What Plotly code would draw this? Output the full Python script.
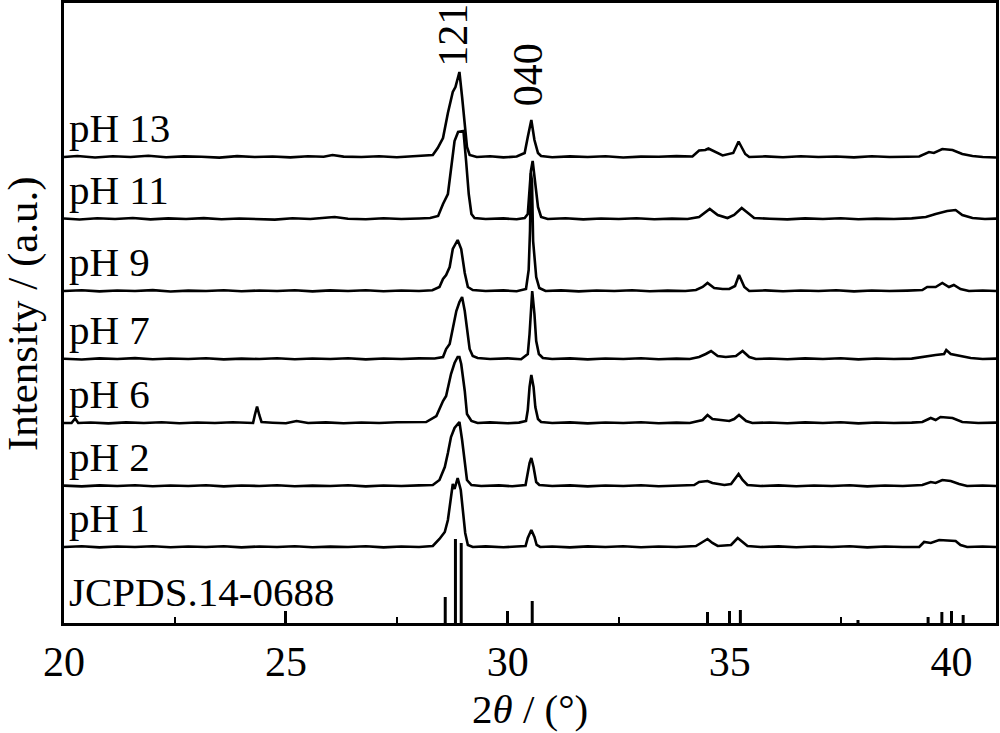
import plotly.graph_objects as go

# ---------------- data (2theta in degrees, intensity in arbitrary units above each pattern's baseline) -------------
sample_labels = ["pH 13", "pH 11", "pH 9", "pH 7", "pH 6", "pH 2", "pH 1"]
sample_offsets = [468, 406, 334, 266, 202, 139, 78]

ph13 = [(20.00,0.0),(20.30,1.0),(20.70,-0.5),(21.10,0.8),(21.50,0.0),(21.90,1.2),(22.30,-0.3),(22.70,0.6),(23.10,0.2),(23.50,-0.6),(23.90,0.9),(24.30,0.0),(24.70,0.5),(25.10,-0.4),(25.50,0.7),(25.85,0.3),(26.05,2.0),(26.30,0.4),(26.70,0.0),(27.10,0.8),(27.50,-0.2),(27.90,0.6),(28.15,1.0),(28.31,2.0),(28.42,9),(28.54,19),(28.65,44),(28.76,65),(28.82,70),(28.91,85),(28.97,60),(29.03,34),(29.08,10),(29.14,2),(29.30,0.0),(29.60,0.7),(29.90,-0.4),(30.20,0.5),(30.38,4),(30.45,20),(30.53,37),(30.60,17),(30.68,4),(30.75,1),(31.00,-0.3),(31.40,0.6),(31.80,0.0),(32.20,0.8),(32.60,-0.5),(33.00,0.4),(33.40,0.2),(33.80,0.9),(34.16,0.5),(34.31,6.5),(34.45,7),(34.52,8.5),(34.69,5),(34.84,1.5),(35.08,4),(35.20,15.5),(35.35,3),(35.44,0.0),(35.80,0.6),(36.20,-0.3),(36.60,0.8),(37.00,0.0),(37.40,0.5),(37.80,-0.4),(38.20,0.7),(38.60,0.0),(39.00,0.3),(39.27,0.5),(39.49,5),(39.60,4),(39.79,8),(40.02,7),(40.24,3),(40.47,1),(40.70,0.0),(41.00,-0.5)]

ph11 = [(20.00,0.5),(20.35,-0.5),(20.75,0.8),(21.15,0.0),(21.55,1.0),(21.95,-0.4),(22.35,0.6),(22.75,0.0),(23.15,0.9),(23.55,-0.3),(23.95,0.5),(24.35,0.2),(24.75,-0.6),(25.15,0.7),(25.55,0.0),(25.95,1.5),(26.10,2.0),(26.40,0.3),(26.80,-0.2),(27.20,0.7),(27.60,0.0),(28.00,0.5),(28.25,1.0),(28.43,3),(28.54,15),(28.65,25),(28.72,48),(28.80,78),(28.88,87),(28.95,88),(29.00,88),(29.06,58),(29.12,25),(29.18,5),(29.25,1),(29.50,0.0),(29.90,0.6),(30.20,-0.3),(30.38,1),(30.45,5),(30.49,25),(30.52,48),(30.56,58),(30.62,35),(30.68,12),(30.75,2),(30.90,0.0),(31.30,0.7),(31.70,-0.4),(32.10,0.5),(32.50,0.0),(32.90,0.8),(33.30,-0.3),(33.70,0.4),(34.05,0.0),(34.31,2),(34.43,6),(34.55,10),(34.73,4),(34.95,1),(35.10,4),(35.27,11),(35.44,5),(35.55,1),(35.90,0.3),(36.30,-0.4),(36.70,0.6),(37.10,0.0),(37.50,0.8),(37.90,-0.3),(38.30,0.4),(38.70,0.0),(39.10,0.6),(39.42,2),(39.64,5),(39.90,8),(40.09,9),(40.24,4),(40.47,1),(40.75,0.0),(41.00,0.4)]

ph9 = [(20.00,0.0),(20.40,0.8),(20.80,-0.4),(21.20,0.5),(21.60,0.0),(22.00,0.9),(22.40,-0.5),(22.80,0.4),(23.20,0.0),(23.60,0.7),(24.00,-0.3),(24.40,0.5),(24.80,0.0),(25.20,0.8),(25.60,-0.4),(26.00,0.6),(26.40,0.0),(26.80,0.7),(27.20,-0.3),(27.60,0.5),(28.00,0.0),(28.30,0.8),(28.46,4),(28.54,12),(28.61,16),(28.69,24),(28.76,42),(28.87,51),(28.95,42),(29.03,18),(29.10,4),(29.21,1),(29.50,0.0),(29.90,0.6),(30.20,-0.2),(30.41,2),(30.47,21),(30.50,60),(30.52,118),(30.545,110),(30.57,50),(30.60,36),(30.64,14),(30.71,3),(30.85,0.0),(31.20,0.6),(31.60,-0.4),(32.00,0.5),(32.40,0.0),(32.80,0.8),(33.20,-0.3),(33.60,0.4),(34.00,0.0),(34.24,1),(34.39,4),(34.50,8),(34.65,3),(34.84,2),(34.99,2),(35.12,5),(35.21,16),(35.33,4),(35.44,0.0),(35.80,0.6),(36.20,-0.3),(36.60,0.5),(37.00,0.0),(37.40,0.7),(37.80,-0.4),(38.20,0.5),(38.60,0.0),(39.00,0.4),(39.34,1),(39.45,4),(39.64,4),(39.79,8),(39.94,4),(40.05,6),(40.20,2),(40.39,0.0),(40.70,0.5),(41.00,0.0)]

ph7 = [(20.00,0.3),(20.40,-0.5),(20.80,0.6),(21.20,0.0),(21.60,0.9),(22.00,-0.3),(22.40,0.5),(22.80,0.0),(23.20,0.8),(23.60,-0.4),(24.00,0.4),(24.40,0.0),(24.80,0.7),(25.20,-0.3),(25.60,0.5),(26.00,0.0),(26.40,0.8),(26.80,-0.4),(27.20,0.5),(27.60,0.0),(28.00,0.6),(28.35,0.5),(28.54,2),(28.61,10),(28.69,15),(28.76,32),(28.84,48),(28.91,57),(28.97,62),(29.03,48),(29.08,28),(29.14,10),(29.21,3),(29.32,1),(29.60,0.0),(30.00,0.6),(30.30,-0.2),(30.45,5),(30.49,25),(30.52,52),(30.55,68),(30.60,45),(30.64,18),(30.70,5),(30.79,1),(31.00,0.0),(31.40,0.6),(31.80,-0.4),(32.20,0.5),(32.60,0.0),(33.00,0.8),(33.40,-0.3),(33.80,0.4),(34.10,0.0),(34.31,2),(34.46,5),(34.58,8),(34.73,3),(34.91,2),(35.14,3),(35.29,8),(35.44,2),(35.59,0.0),(35.90,0.5),(36.30,-0.3),(36.70,0.6),(37.10,0.0),(37.50,0.7),(37.90,-0.4),(38.30,0.5),(38.70,0.0),(39.10,0.4),(39.45,3),(39.64,4),(39.83,5),(39.88,9),(39.98,5),(40.17,3),(40.43,1),(40.70,0.0),(41.00,0.4)]

ph6 = [(20.00,0.0),(20.17,0.0),(20.25,4.5),(20.32,0.0),(20.60,0.5),(21.00,-0.4),(21.40,0.6),(21.80,0.0),(22.20,0.8),(22.60,-0.3),(23.00,0.5),(23.40,0.0),(23.80,0.7),(24.10,0.0),(24.26,0.0),(24.30,8),(24.35,16.5),(24.40,8),(24.45,1),(24.70,0.3),(25.00,-0.3),(25.24,2),(25.50,0.0),(25.90,0.6),(26.30,-0.3),(26.70,0.5),(27.10,0.0),(27.50,0.7),(27.90,0.6),(28.16,1),(28.39,7),(28.54,22),(28.61,27),(28.72,49),(28.80,60),(28.87,66),(28.91,66),(28.95,59),(29.03,32),(29.08,9),(29.18,2),(29.32,0.0),(29.60,0.6),(30.00,-0.3),(30.25,0.4),(30.41,2),(30.45,13),(30.49,36),(30.53,48),(30.58,36),(30.62,16),(30.68,4),(30.75,1),(31.00,0.0),(31.40,0.6),(31.80,-0.4),(32.20,0.5),(32.60,0.0),(33.00,0.8),(33.40,-0.3),(33.80,0.4),(34.10,0.0),(34.39,3),(34.50,8),(34.61,4),(34.84,3),(34.99,2),(35.10,4),(35.21,8),(35.37,2),(35.51,0.0),(35.90,0.5),(36.30,-0.3),(36.70,0.6),(37.10,0.0),(37.50,0.7),(37.90,-0.4),(38.30,0.5),(38.70,0.0),(39.10,0.4),(39.34,1),(39.53,5),(39.64,3),(39.75,6),(40.02,5),(40.24,1),(40.60,0.0),(41.00,0.4)]

ph2 = [(20.00,0.4),(20.40,-0.4),(20.80,0.6),(21.20,0.0),(21.60,0.8),(22.00,-0.3),(22.40,0.5),(22.80,0.0),(23.20,0.7),(23.60,-0.4),(24.00,0.5),(24.40,0.0),(24.80,0.8),(25.20,-0.3),(25.60,0.4),(26.00,0.0),(26.40,0.7),(26.80,-0.4),(27.20,0.5),(27.60,0.0),(28.00,0.6),(28.31,1),(28.46,6),(28.58,19),(28.65,33),(28.72,49),(28.80,58),(28.85,61),(28.91,64),(28.97,46),(29.03,23),(29.08,6),(29.18,1),(29.40,0.0),(29.80,0.6),(30.10,-0.3),(30.40,1),(30.45,13),(30.49,23),(30.53,28),(30.58,19),(30.64,4),(30.71,1),(31.00,0.0),(31.40,0.6),(31.80,-0.4),(32.20,0.5),(32.60,0.0),(33.00,0.8),(33.40,-0.3),(33.80,0.4),(34.20,1),(34.31,4),(34.50,5),(34.61,3),(34.88,1),(35.03,2),(35.10,6),(35.20,12),(35.29,6),(35.40,1),(35.70,0.0),(36.10,0.6),(36.50,-0.3),(36.90,0.5),(37.30,0.0),(37.70,0.7),(38.10,-0.4),(38.50,0.5),(38.90,0.0),(39.34,1),(39.53,4),(39.64,3),(39.79,6),(39.98,5),(40.17,2),(40.35,0.0),(40.70,0.5),(41.00,0.0)]

ph1 = [(20.00,0.0),(20.40,0.7),(20.80,-0.4),(21.20,0.5),(21.60,0.0),(22.00,0.8),(22.40,-0.3),(22.80,0.5),(23.20,0.0),(23.60,0.7),(24.00,-0.4),(24.40,0.5),(24.80,0.0),(25.20,0.8),(25.60,-0.3),(26.00,0.4),(26.40,0.0),(26.80,0.7),(27.20,-0.4),(27.60,0.5),(28.00,0.0),(28.31,1),(28.46,8),(28.58,15),(28.65,27),(28.72,50),(28.76,63),(28.80,58),(28.84,65),(28.87,69),(28.94,57),(28.99,37),(29.04,14),(29.10,2),(29.21,0.0),(29.50,0.6),(29.90,-0.3),(30.20,0.5),(30.40,1),(30.45,9),(30.53,17),(30.60,10),(30.65,2),(30.73,0.0),(31.00,0.5),(31.40,-0.4),(31.80,0.6),(32.20,0.0),(32.60,0.7),(33.00,-0.3),(33.40,0.5),(33.80,0.0),(34.24,1),(34.39,5),(34.50,8),(34.61,4),(34.73,1),(35.03,2),(35.18,9),(35.29,5),(35.40,1),(35.70,0.0),(36.10,0.6),(36.50,-0.3),(36.90,0.5),(37.30,0.0),(37.70,0.7),(38.10,-0.4),(38.50,0.5),(38.90,0.0),(39.27,0.0),(39.38,5),(39.53,4),(39.72,7),(39.94,6),(40.09,6),(40.20,2),(40.35,0.0),(40.70,0.5),(41.00,0.0)]

patterns = [ph13, ph11, ph9, ph7, ph6, ph2, ph1]

# JCPDS 14-0688 reference lines
jcpds_label = "JCPDS.14-0688"
jcpds_theta = [28.59, 28.82, 28.95, 30.55, 34.50, 35.24, 37.89, 39.47, 39.78, 40.26]
jcpds_height = [26, 84, 80, 22, 11, 13, 3, 6, 11, 8]

peak_labels = ["121", "040"]
peak_theta = [28.76, 30.46]
peak_label_y = [590, 550]

x_ticks = [20, 25, 30, 35, 40]

# ---------------- figure ----------------
FONT = "Liberation Serif, Times New Roman, serif"
fig = go.Figure()

for pts, off in zip(patterns, sample_offsets):
    fig.add_trace(go.Scatter(
        x=[p[0] for p in pts], y=[p[1] + off for p in pts],
        mode="lines", line=dict(color="black", width=2.6),
        showlegend=False, hoverinfo="skip"))

sx, sy = [], []
for t, h in zip(jcpds_theta, jcpds_height):
    sx += [t, t, None]
    sy += [0, h + 2, None]
fig.add_trace(go.Scatter(x=sx, y=sy, mode="lines",
                         line=dict(color="black", width=3),
                         showlegend=False, hoverinfo="skip"))

annotations = []
for lab, off in zip(sample_labels, sample_offsets):
    annotations.append(dict(x=20.06, y=off + 29, xref="x", yref="y", text=lab,
                            showarrow=False, xanchor="left", yanchor="middle",
                            font=dict(family=FONT, size=41, color="black")))
annotations.append(dict(x=20.06, y=33, xref="x", yref="y", text=jcpds_label,
                        showarrow=False, xanchor="left", yanchor="middle",
                        font=dict(family=FONT, size=41, color="black")))
for lab, t, yy in zip(peak_labels, peak_theta, peak_label_y):
    annotations.append(dict(x=t, y=yy, xref="x", yref="y", text=lab, textangle=-90,
                            showarrow=False, xanchor="center", yanchor="middle",
                            font=dict(family=FONT, size=42, color="black")))
annotations.append(dict(x=-0.044, y=0.5, xref="paper", yref="paper",
                        text="Intensity / (a.u.)", textangle=-90, showarrow=False,
                        xanchor="center", yanchor="middle",
                        font=dict(family=FONT, size=43, color="black")))
annotations.append(dict(x=0.5, y=-0.138, xref="paper", yref="paper",
                        text="2<i>θ</i> / (°)", showarrow=False,
                        xanchor="center", yanchor="middle",
                        font=dict(family=FONT, size=41, color="black")))

fig.update_layout(
    width=1000, height=733,
    margin=dict(l=64, r=4, t=3, b=110, autoexpand=False),
    paper_bgcolor="white", plot_bgcolor="white",
    annotations=annotations,
    xaxis=dict(range=[20, 41], tickvals=x_ticks, ticktext=[str(v) for v in x_ticks],
               ticks="inside", ticklen=12, tickwidth=2.5, tickcolor="black",
               minor=dict(dtick=2.5, tick0=20, ticks="inside", ticklen=6, tickwidth=2, tickcolor="black"),
               showline=True, linecolor="black", linewidth=2.5, mirror=True,
               showgrid=False, zeroline=False, automargin=False,
               tickfont=dict(family=FONT, size=42, color="black")),
    yaxis=dict(range=[2, 622], showticklabels=False, ticks="", automargin=False,
               showline=True, linecolor="black", linewidth=2.5, mirror=True,
               showgrid=False, zeroline=False),
)

fig.write_html("out.html", config={"displayModeBar": False},
               post_script="document.body.style.margin='0';")
